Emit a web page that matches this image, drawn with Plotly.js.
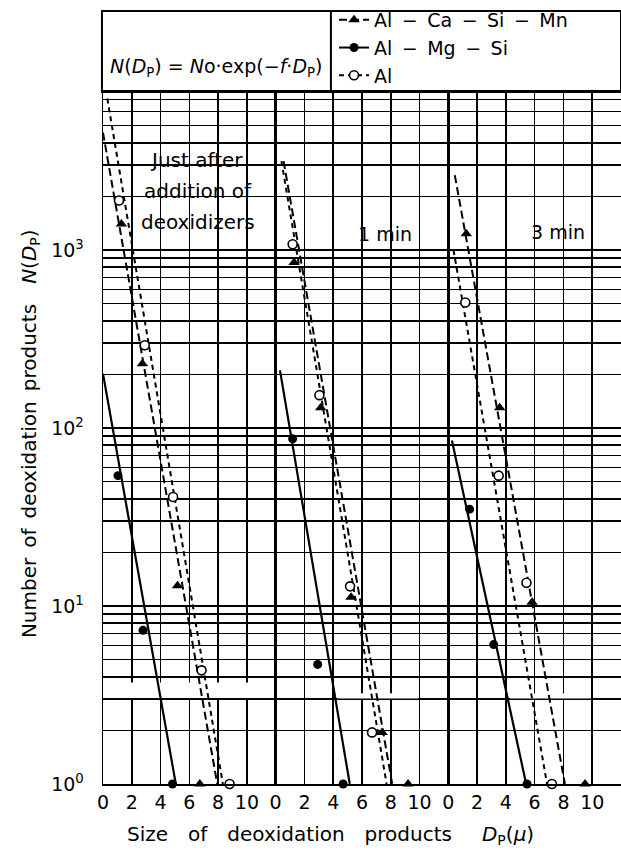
<!DOCTYPE html>
<html><head><meta charset="utf-8">
<script src="https://cdn.plot.ly/plotly-3.0.1.min.js"></script>
<style>body{margin:0;background:#fff}</style>
</head><body><div id="chart" style="width:621px;height:858px"></div>
<script>
// ---------- data (one entry per panel) ----------
const panel1Lines = ["Just after", "addition of", "deoxidizers"];
const panelLabels = ["1 min", "3 min"];
const seriesNames = ["Al\u2002\u2212\u2002Ca\u2002\u2212\u2002Si\u2002\u2212\u2002Mn", "Al\u2002\u2212\u2002Mg\u2002\u2212\u2002Si", "Al"];

// Al-Ca-Si-Mn (filled triangles)
const caX = [[1.28, 2.74, 5.18, 6.73], [1.28, 3.13, 5.24, 7.4, 9.2], [1.25, 3.57, 5.82, 9.5]];
const caY = [[1400, 230, 13, 1], [850, 130, 11.2, 1.95, 1], [1236, 130, 10.5, 1]];
// Al-Mg-Si (filled circles)
const mgX = [[1.04, 2.78, 4.83], [1.18, 2.92, 4.69], [1.48, 3.15, 5.47]];
const mgY = [[54, 7.3, 1], [87, 4.7, 1], [35, 6.07, 1]];
// Al (open circles)
const alX = [[1.11, 2.90, 4.87, 6.85, 8.8], [1.18, 3.04, 5.17, 6.7], [1.18, 3.50, 5.43, 7.2]];
const alY = [[1900, 292, 41, 4.35, 1], [1077, 153, 12.9, 1.95], [507, 54, 13.5, 1]];

// fitted lines N = N0 exp(-f Dp): end points
const caLineX = [[0, 7.94], [0.55, 8.1], [0.45, 8.1]];
const caLineY = [[4570, 1], [3160, 1], [2630, 1]];
const mgLineX = [[0, 5.06], [0.3, 5.15], [0.25, 5.41]];
const mgLineY = [[202, 1], [211, 1], [85, 1]];
const alLineX = [[0.3, 8.33], [0.4, 7.71], [0.36, 6.86]];
const alLineY = [[7100, 1], [3160, 1], [1000, 1]];

const xTickVals = [0, 2, 4, 6, 8, 10];
const xTickText = ["0", "2", "4", "6", "8", "10"];
const yTickVals = [1, 10, 100, 1000];
const yTickText = ["10<sup>0</sup>", "10<sup>1</sup>", "10<sup>2</sup>", "10<sup>3</sup>"];
const yGridVals = [2,3,4,5,6,7,8,9,20,30,40,50,60,70,80,90,200,300,400,500,600,700,800,900,2000,3000,4000,5000,6000,7000];

// ---------- styles ----------
const FONT = "DejaVu Sans, sans-serif";
const caStyle = {line: {color: "#000", width: 2, dash: "8px,4px"}, marker: {symbol: "triangle-up", size: 10, color: "#000"}};
const mgStyle = {line: {color: "#000", width: 2.2}, marker: {symbol: "circle", size: 9, color: "#000"}};
const alStyle = {line: {color: "#000", width: 2, dash: "5px,4px"}, marker: {symbol: "circle", size: 9, color: "#fff", line: {color: "#000", width: 1.6}}};
const axisNames = ["x", "x2", "x3"];

const traces = [];
for (let p = 0; p < 3; p++) {
  const xa = axisNames[p];
  traces.push({x: caLineX[p], y: caLineY[p], xaxis: xa, yaxis: "y", mode: "lines", line: caStyle.line, showlegend: false, hoverinfo: "skip"});
  traces.push({x: alLineX[p], y: alLineY[p], xaxis: xa, yaxis: "y", mode: "lines", line: alStyle.line, showlegend: false, hoverinfo: "skip"});
  traces.push({x: mgLineX[p], y: mgLineY[p], xaxis: xa, yaxis: "y", mode: "lines", line: mgStyle.line, showlegend: false, hoverinfo: "skip"});
  traces.push({x: caX[p], y: caY[p], xaxis: xa, yaxis: "y", mode: "markers", marker: caStyle.marker, showlegend: false, cliponaxis: false});
  traces.push({x: mgX[p], y: mgY[p], xaxis: xa, yaxis: "y", mode: "markers", marker: mgStyle.marker, showlegend: false, cliponaxis: false});
  traces.push({x: alX[p], y: alY[p], xaxis: xa, yaxis: "y", mode: "markers", marker: alStyle.marker, showlegend: false, cliponaxis: false});
}
// legend entries
[caStyle, mgStyle, alStyle].forEach((s, i) => {
  traces.push({x: [null], y: [null], xaxis: "x", yaxis: "y", mode: "lines+markers", name: seriesNames[i],
    line: Object.assign({}, s.line, {width: 2}), marker: s.marker, showlegend: true});
});

const xBase = {
  range: [0, 12], tickvals: xTickVals, ticktext: xTickText, showgrid: true, gridcolor: "#000", gridwidth: 1.6,
  zeroline: false, showline: true, linecolor: "#000", linewidth: 2, mirror: true, ticks: "",
  tickfont: {family: FONT, size: 19, color: "#000"}, anchor: "y", fixedrange: true
};
const ES = "\u2002", EM = "\u2003";
const layout = {
  width: 621, height: 858,
  margin: {l: 103, r: 0, t: 92, b: 74},
  paper_bgcolor: "#fff", plot_bgcolor: "#fff",
  font: {family: FONT, color: "#000"},
  xaxis: Object.assign({}, xBase, {domain: [0, 1/3]}),
  xaxis2: Object.assign({}, xBase, {domain: [1/3, 2/3]}),
  xaxis3: Object.assign({}, xBase, {domain: [2/3, 1]}),
  yaxis: {
    type: "log", range: [0, 3.888], tickvals: yTickVals, ticktext: yTickText,
    showgrid: true, gridcolor: "#000", gridwidth: 1.6, zeroline: false,
    minor: {tickvals: yGridVals, showgrid: true, gridcolor: "#000", gridwidth: 1.6, ticks: ""},
    showline: true, linecolor: "#000", linewidth: 1.4, mirror: "all", ticks: "",
    ticklabelstandoff: 14, tickfont: {family: FONT, size: 19, color: "#000"}, fixedrange: true
  },
  showlegend: true,
  legend: {x: 0.446, y: 1.1315, xanchor: "left", yanchor: "top", bgcolor: "rgba(0,0,0,0)",
    font: {family: FONT, size: 19, color: "#000"}, itemwidth: 30, tracegroupgap: 0},
  shapes: [
    // formula / legend box
    {type: "rect", xref: "paper", yref: "paper", x0: -0.002, x1: 1, y0: 1, y1: 1.117, line: {color: "#000", width: 2}},
    {type: "line", xref: "paper", yref: "paper", x0: 0.44, x1: 0.44, y0: 1, y1: 1.117, line: {color: "#000", width: 2}},
    // white label backgrounds
    {type: "rect", layer: "between", xref: "x", yref: "y", x0: 0, x1: 12, y0: 3.04, y1: 3.713, fillcolor: "#fff", line: {width: 0}},
    {type: "rect", layer: "between", xref: "x2", yref: "y", x0: 4.3, x1: 9.9, y0: 3.02, y1: 3.24, fillcolor: "#fff", line: {width: 0}},
    {type: "rect", layer: "between", xref: "x3", yref: "y", x0: 4.3, x1: 9.9, y0: 3.02, y1: 3.22, fillcolor: "#fff", line: {width: 0}}
  ],
  annotations: [
    {xref: "paper", yref: "paper", x: 0.218, y: 1.0347, xanchor: "center", yanchor: "middle", showarrow: false,
     text: "<i>N</i>(<i>D</i><sub>P</sub>) = <i>N</i>o\u00b7exp(\u2212<i>f</i>\u00b7<i>D</i><sub>P</sub>)",
     font: {family: FONT, size: 19, color: "#000"}},
    {xref: "x", yref: "y", x: 6.5, y: 3.506, xanchor: "center", yanchor: "middle", showarrow: false, text: panel1Lines[0],
     font: {family: FONT, size: 20, color: "#000"}},
    {xref: "x", yref: "y", x: 6.6, y: 3.331, xanchor: "center", yanchor: "middle", showarrow: false, text: panel1Lines[1],
     font: {family: FONT, size: 20, color: "#000"}},
    {xref: "x", yref: "y", x: 6.6, y: 3.157, xanchor: "center", yanchor: "middle", showarrow: false, text: panel1Lines[2],
     font: {family: FONT, size: 20, color: "#000"}},
    {xref: "x2", yref: "y", x: 7.6, y: 3.09, xanchor: "center", yanchor: "middle", showarrow: false, text: panelLabels[0],
     font: {family: FONT, size: 19, color: "#000"}},
    {xref: "x3", yref: "y", x: 7.6, y: 3.10, xanchor: "center", yanchor: "middle", showarrow: false, text: panelLabels[1],
     font: {family: FONT, size: 19, color: "#000"}},
    {xref: "paper", yref: "paper", x: 0.44, y: -0.0737, xanchor: "center", yanchor: "middle", showarrow: false,
     text: "Size" + EM + "of" + EM + "deoxidation" + EM + "products" + EM + ES + "<i>D</i><sub>P</sub>(<i>\u03bc</i>)",
     font: {family: FONT, size: 20, color: "#000"}},
    {xref: "paper", yref: "paper", x: -0.141, y: 0.507, xanchor: "center", yanchor: "middle", showarrow: false, textangle: -90,
     text: "Number" + ES + "of" + ES + "deoxidation" + ES + "products" + ES + ES + "<i>N</i>(<i>D</i><sub>P</sub>)",
     font: {family: FONT, size: 20, color: "#000"}}
  ]
};
Plotly.newPlot("chart", traces, layout, {staticPlot: true, displayModeBar: false});
</script></body></html>
